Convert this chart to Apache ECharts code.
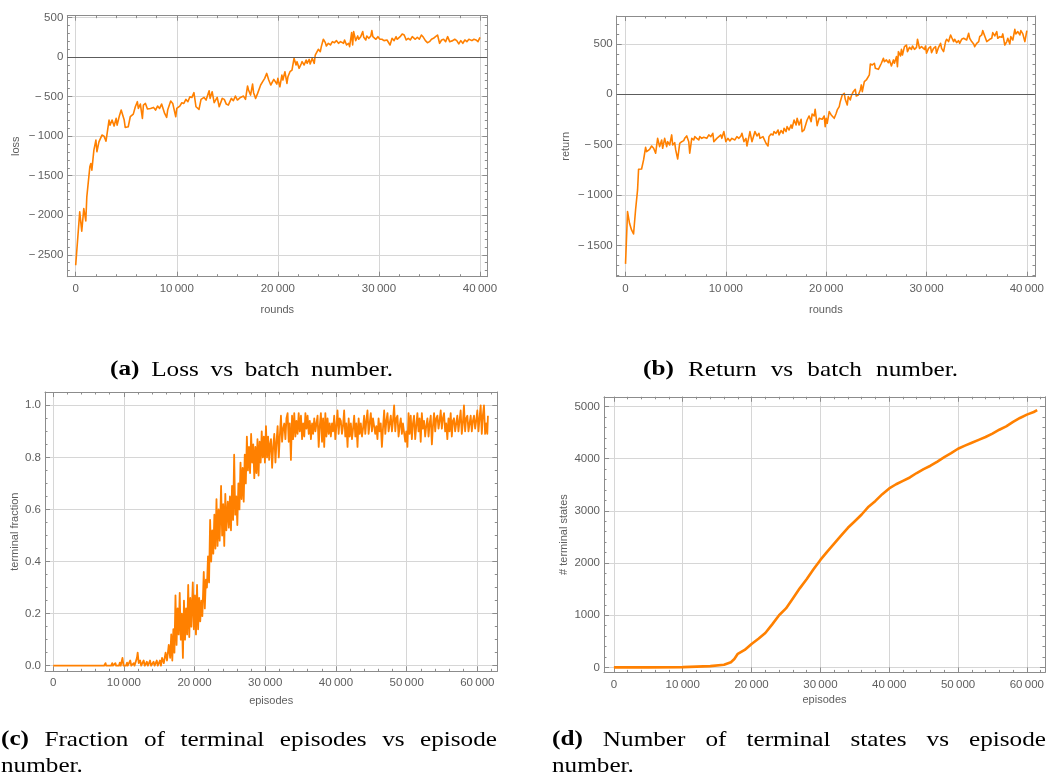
<!DOCTYPE html>
<html>
<head>
<meta charset="utf-8">
<script src="https://cdn.jsdelivr.net/npm/echarts@6/dist/echarts.min.js"></script>
<style>
  html, body { margin: 0; padding: 0; background: #fff; }
  #container { width: 1047px; height: 776px; }
</style>
</head>
<body>
<div id="container"></div>
<script>
// (a) loss vs rounds
var lossRounds = [0, 400, 500, 600, 800, 1000, 1100, 1400, 1500, 1600, 1800, 2000, 2100, 2300, 2600, 2800, 3000, 3300, 3400, 3600,
  3800, 4000, 4100, 4300, 4500, 4800, 4900, 5200, 5400, 5700, 5900, 6100, 6200, 6400, 6600, 6700, 6900, 7100, 7400, 7700,
  7900, 8100, 8300, 8500, 8800, 9000, 9100, 9400, 9600, 9900, 10000, 10300, 10500, 10700, 10900, 11100, 11300, 11500, 11700, 11900,
  12200, 12400, 12700, 12900, 13200, 13300, 13500, 13700, 14000, 14200, 14500, 14700, 14900, 15100, 15400, 15600, 15800, 16000, 16300, 16600,
  16800, 17000, 17100, 17300, 17500, 17600, 17800, 18000, 18300, 18500, 18700, 18900, 19100, 19300, 19600,
  19700, 19900, 20000, 20200, 20400, 20500, 20700, 20900, 21000, 21200, 21400, 21600, 21800, 21900, 22100, 22300, 22400, 22600, 22800, 22900,
  23100, 23200, 23400, 23600, 23700, 23800, 24000, 24200, 24300, 24500, 24700, 24800, 25000, 25200, 25400, 25600, 25800, 26000, 26200, 26500,
  26600, 26800, 27000, 27100, 27300, 27400, 27500, 27700, 27900, 28000, 28200, 28400, 28500, 28700, 28800, 29000, 29200, 29300, 29400, 29700,
  29900, 30100, 30300, 30500, 30800, 30900, 31100, 31300, 31500, 31700, 31800, 32100, 32300, 32500, 32700, 32900, 33100, 33300, 33600, 33800,
  34000, 34200, 34400, 34600, 34800, 35000, 35200, 35400, 35600, 35800, 36000, 36200, 36400, 36600, 36800, 37000, 37300, 37500, 37700, 37900,
  38100, 38300, 38500, 38700, 38900, 39200, 39400, 39600, 39800, 39900, 40000];
var lossValues = [-2633, -1958, -1958, -2203, -1916, -2072, -1768, -1388, -1346, -1430, -1177, -1051, -1198, -1072, -987, -1000, -1063, -797, -861, -797,
  -873, -776, -861, -755, -671, -797, -890, -882, -755, -722, -629, -565, -650, -595, -776, -608, -587, -658, -650, -637,
  -671, -620, -650, -595, -713, -764, -671, -557, -587, -755, -650, -620, -578, -587, -536, -565, -502, -511, -451, -629,
  -662, -536, -511, -544, -426, -523, -439, -578, -511, -629, -523, -536, -595, -608, -523, -553, -494, -544, -511, -494,
  -536, -367, -418, -481, -342, -451, -523, -460, -354, -312, -270, -207, -291, -354, -283,
  -291, -342, -270, -376, -228, -291, -186, -333, -249, -186, -165, -17, -101, -59, -143, -89, -59, -101, -38, -80,
  -30, -89, -17, -80, 25, 46, 97, 68, 131, 224, 181, 139, 173, 152, 194, 181, 207, 173, 194, 173,
  215, 152, 173, 131, 308, 152, 321, 207, 266, 224, 257, 321, 249, 215, 266, 236, 266, 333, 257, 224,
  257, 224, 224, 207, 215, 194, 152, 236, 207, 257, 224, 257, 291, 278, 215, 236, 215, 257, 224, 249,
  224, 278, 249, 207, 181, 194, 224, 236, 257, 278, 173, 215, 224, 194, 257, 194, 207, 224, 207, 165,
  207, 173, 215, 194, 224, 207, 224, 215, 194, 173, 249];

// (b) return vs rounds
var returnRounds = [0, 200, 400, 600, 700, 800, 1000, 1200, 1300, 1600, 1800, 2000, 2100, 2400, 2600, 2800, 3000, 3200, 3400, 3600,
  3700, 3900, 4100, 4200, 4400, 4600, 4700, 4900, 5000, 5200, 5400, 5600, 5800, 5900, 6100, 6300, 6400, 6600, 6800, 6900,
  7100, 7300, 7400, 7600, 7800, 8100, 8300, 8500, 8700, 8800, 9100, 9300, 9500, 9600, 9800, 10000, 10200, 10400, 10600, 10900,
  11100, 11300, 11500, 11600, 11800, 12000, 12100, 12300, 12400, 12600, 12800, 12900, 13100, 13300, 13400, 13700, 13800, 14000, 14200, 14300,
  14500, 14700, 14800, 15000, 15200, 15300, 15500, 15700, 15800, 16000, 16100, 16300, 16500, 16600, 16800, 17000, 17100, 17300, 17500, 17600,
  17800, 18000, 18100, 18300, 18500, 18600, 18800, 18900, 19100, 19300, 19400, 19600, 19800,
  19900, 20000, 20100, 20300, 20500, 20600, 20800, 21000, 21100, 21300, 21400, 21600, 21800, 21900, 22100, 22200, 22400, 22500, 22700, 22900,
  23000, 23200, 23400, 23500, 23600, 23800, 24000, 24100, 24300, 24400, 24600, 24800, 24900, 25200, 25300, 25500, 25700, 25800, 26000, 26200,
  26300, 26500, 26700, 26800, 27000, 27100, 27200, 27400, 27500, 27600, 27800, 28000, 28100, 28300, 28500, 28600, 28800, 29000, 29100, 29300,
  29500, 29600, 29800, 29900, 30000, 30200, 30400, 30500, 30700, 30900, 31000, 31200, 31400, 31500, 31700, 31900, 32000, 32200, 32400, 32500,
  32700, 32800, 33000, 33200, 33300, 33500, 33700, 33800, 34000, 34200, 34300, 34500, 34700, 34800, 35000, 35200, 35300, 35500, 35600, 35800,
  36000, 36100, 36300, 36500, 36600, 36800, 37000, 37100, 37300, 37500, 37600, 37800, 38000, 38100, 38300, 38400, 38600, 38800, 38900, 39100,
  39300, 39400, 39600, 39800, 40000];
var returnValues = [-1683, -1164, -1280, -1346, -1353, -1386, -1148, -949, -744, -741, -651, -526, -569, -546, -513, -536, -585, -437, -519, -453,
  -536, -437, -519, -470, -503, -403, -503, -480, -552, -642, -486, -470, -460, -437, -413, -470, -585, -437, -453, -420,
  -437, -453, -420, -437, -427, -437, -403, -420, -387, -470, -437, -420, -403, -437, -370, -470, -437, -463, -437, -453,
  -420, -437, -413, -387, -470, -437, -513, -420, -370, -470, -403, -370, -413, -387, -437, -420, -420, -486, -513, -420,
  -394, -403, -370, -387, -354, -403, -360, -387, -337, -370, -321, -354, -304, -337, -255, -304, -238, -304, -248, -370,
  -354, -288, -255, -215, -271, -195, -215, -149, -311, -238, -222, -248, -215,
  -321, -238, -288, -172, -205, -188, -238, -188, -155, -122, -73, -7, 10, -50, -106, -23, -56, -17, 26, 50,
  -17, -7, 43, 93, 26, 126, 142, 159, 192, 301, 291, 308, 258, 248, 268, 308, 357, 324, 341, 314,
  341, 281, 341, 308, 374, 274, 423, 380, 446, 390, 473, 489, 423, 466, 446, 479, 446, 466, 546, 456,
  473, 489, 446, 479, 407, 456, 473, 413, 456, 473, 407, 466, 506, 456, 423, 523, 546, 523, 589, 566,
  523, 546, 513, 532, 506, 546, 556, 572, 539, 605, 556, 523, 499, 473, 506, 523, 572, 589, 632, 579,
  523, 506, 546, 556, 612, 579, 622, 556, 572, 566, 599, 489, 523, 556, 499, 572, 539, 645, 599, 622,
  589, 632, 599, 523, 632];

// (c) terminal fraction vs episodes
var fracEpisodes = [0, 7200, 7400, 7500, 8200, 8350, 8450, 8800, 8900, 9300,
  9430, 9550, 9800, 9950, 10300, 10450, 10550, 10900, 11050, 11400,
  11500, 11850, 11950, 12100, 12300, 12450, 12800, 12950, 13250, 13400,
  13700, 13850, 14200, 14350, 14650, 14800, 15100, 15250,
  15400, 15650, 15900, 16100, 16350, 16550, 16700, 16850, 17000, 17150,
  17300, 17450, 17600, 17750, 17900, 18050, 18200, 18350, 18500, 18650,
  18800, 18950, 19100, 19250, 19400, 19550, 19750, 19900, 20050, 20200,
  20350, 20500, 20650, 20800, 20950, 21100, 21300, 21450, 21600, 21750,
  21900, 22050, 22200, 22350, 22500, 22650, 22800, 22950, 23100, 23250,
  23400, 23550, 23750, 23900, 24050, 24200, 24350, 24500, 24700, 24850,
  25000, 25150, 25300, 25450, 25600, 25750, 25900, 26050, 26200, 26350,
  26500, 26650, 26800, 26950, 27100, 27250, 27400, 27550, 27700, 27850,
  28000, 28150, 28300, 28450, 28600, 28750, 28900, 29050, 29200, 29350,
  29500, 29650, 29800, 29950, 30100, 30250, 30400, 30550, 30680,
  30810, 30970, 31120, 31280, 31440, 31590, 31750, 31910, 32060, 32220,
  32380, 32530, 32690, 32850, 33000, 33160, 33320, 33470, 33630, 33790,
  33940, 34100, 34260, 34410, 34570, 34730, 34880, 35050, 35210, 35360,
  35520, 35680, 35830, 35990, 36150, 36300, 36460, 36620, 36770, 36930,
  37090, 37240, 37400, 37560, 37710, 37870, 38030, 38180, 38340, 38500,
  38650, 38810, 38970, 39120, 39280, 39440, 39590, 39750, 39910, 40060,
  40220, 40380, 40530, 40690, 40850, 41000, 41160, 41320, 41470, 41640,
  41800, 41950, 42110, 42270, 42420, 42580, 42740, 42890, 43050, 43210,
  43360, 43520, 43680, 43830, 43990, 44150, 44300, 44460, 44620, 44770,
  44930, 45090, 45240, 45400, 45560, 45710, 45870, 46030, 46180, 46340,
  46500, 46650, 46820, 46980, 47130, 47290, 47450, 47600, 47760, 47920,
  48070, 48230, 48390, 48540, 48700, 48860, 49010, 49170, 49330, 49480,
  49640, 49800, 49950, 50110, 50270, 50420, 50580, 50740, 50890, 51050,
  51210, 51360, 51520, 51680, 51830, 51990, 52150, 52300, 52460, 52620,
  52770, 52940, 53100, 53250, 53410, 53570, 53720, 53880, 54040, 54190,
  54350, 54510, 54660, 54820, 54980, 55130, 55290, 55450, 55600, 55760,
  55920, 56070, 56230, 56390, 56540, 56700, 56860, 57010, 57170, 57330,
  57480, 57640, 57800, 57950, 58110, 58270, 58420, 58590, 58750, 58900,
  59060, 59220, 59370, 59530, 59690, 59840, 60000, 60160, 60310, 60470,
  60630, 60780, 60940, 61100, 61250, 61410, 61500];
var fracValues = [0, 0, 0.01, 0, 0, 0.01, 0, 0.01, 0, 0,
  0.012, 0, 0.03, 0, 0, 0.012, 0, 0.02, 0, 0.01,
  0, 0.03, 0.05, 0.01, 0.02, 0, 0.02, 0, 0.015, 0,
  0.02, 0, 0.015, 0, 0.02, 0, 0.02, 0,
  0.03, 0.01, 0.05, 0.02, 0.08, 0.03, 0.12, 0.02, 0.14, 0.05,
  0.27, 0.08, 0.22, 0.12, 0.28, 0.10, 0.20, 0.03, 0.25, 0.10,
  0.22, 0.12, 0.31, 0.11, 0.26, 0.15, 0.32, 0.14, 0.27, 0.12,
  0.31, 0.14, 0.26, 0.17, 0.25, 0.19, 0.36, 0.22, 0.33, 0.30,
  0.42, 0.32, 0.56, 0.40, 0.52, 0.43, 0.58, 0.45, 0.64, 0.46,
  0.60, 0.48, 0.69, 0.50, 0.62, 0.46, 0.66, 0.52, 0.63, 0.53,
  0.65, 0.52, 0.69, 0.56, 0.81, 0.58, 0.65, 0.54, 0.70, 0.60,
  0.78, 0.64, 0.76, 0.63, 0.81, 0.70, 0.88, 0.75, 0.84, 0.74,
  0.89, 0.78, 0.85, 0.72, 0.84, 0.74, 0.87, 0.73, 0.86, 0.78,
  0.90, 0.80, 0.88, 0.78, 0.92, 0.80, 0.88, 0.79, 0.85,
  0.87, 0.76, 0.84, 0.89, 0.78, 0.86, 0.92, 0.80, 0.88,
  0.96, 0.86, 0.91, 0.93, 0.87, 0.95, 0.97, 0.86, 0.93,
  0.79, 0.96, 0.87, 0.97, 0.88, 0.94, 0.89, 0.97, 0.90,
  0.96, 0.87, 0.93, 0.88, 0.97, 0.91, 0.96, 0.89, 0.94,
  0.87, 0.93, 0.89, 0.95, 0.90, 0.93, 0.96, 0.84, 0.92,
  0.97, 0.86, 0.95, 0.84, 0.97, 0.88, 0.95, 0.89, 0.93,
  0.88, 0.93, 0.90, 0.96, 0.87, 0.92, 0.98, 0.89, 0.95,
  0.94, 0.89, 0.92, 0.98, 0.88, 0.93, 0.84, 0.95, 0.88,
  0.93, 0.87, 0.91, 0.96, 0.88, 0.93, 0.84, 0.95, 0.89,
  0.93, 0.88, 0.91, 0.96, 0.89, 0.94, 0.98, 0.89, 0.93,
  0.97, 0.90, 0.95, 0.95, 0.89, 0.92, 0.87, 0.95, 0.90,
  0.93, 0.84, 0.91, 0.98, 0.89, 0.94, 0.97, 0.90, 0.93,
  0.96, 0.90, 0.94, 1.00, 0.90, 0.95, 0.96, 0.88, 0.92,
  0.95, 0.89, 0.93, 0.93, 0.86, 0.90, 0.84, 0.97, 0.89,
  0.96, 0.87, 0.93, 0.96, 0.87, 0.92, 0.97, 0.90, 0.95,
  0.86, 0.97, 0.91, 0.94, 0.88, 0.92, 0.95, 0.88, 0.93,
  0.96, 0.85, 0.92, 0.97, 0.90, 0.95, 0.96, 0.91, 0.94,
  0.98, 0.91, 0.95, 0.97, 0.90, 0.93, 0.87, 0.95, 0.90,
  0.97, 0.88, 0.94, 0.95, 0.90, 0.93, 0.96, 0.90, 0.94,
  0.98, 0.89, 0.93, 1.00, 0.90, 0.95, 0.96, 0.90, 0.93,
  0.96, 0.90, 0.94, 0.96, 0.91, 0.94, 0.98, 0.90, 0.95,
  1.00, 0.89, 0.96, 1.00, 0.89, 0.93,
  0.89, 0.96];

// (d) number of terminal states vs episodes
var stateEpisodes = [0, 5000, 10000, 12000, 14000, 16000, 17000, 17500, 18000, 19000,
  20000, 21000, 22000, 23000, 24000, 25000, 26000, 27000, 28000, 29000,
  30000, 31000, 32000, 33000, 34000, 35000, 36000, 37000, 38000, 39000,
  40000, 41000, 42000, 43000, 44000, 45000, 46000, 47000, 48000, 49000,
  50000, 51000, 52000, 53000, 54000, 55000, 56000, 57000, 58000, 59000,
  60000, 61000, 61500];
var stateCounts = [0, 0, 5, 15, 25, 50, 100, 160, 260, 335,
  450, 550, 660, 825, 1000, 1130, 1320, 1515, 1690, 1880,
  2060, 2220, 2370, 2525, 2675, 2800, 2930, 3080, 3190, 3320,
  3430, 3510, 3575, 3640, 3725, 3800, 3865, 3945, 4030, 4105,
  4190, 4250, 4305, 4360, 4415, 4480, 4555, 4620, 4705, 4780,
  4845, 4895, 4930];

// tick labels
var roundTicks = [0, 10000, 20000, 30000, 40000];
var episodeTicks = [0, 10000, 20000, 30000, 40000, 50000, 60000];
var lossTicks = [-2500, -2000, -1500, -1000, -500, 0, 500];
var returnTicks = [-1500, -1000, -500, 0, 500];
var fracTicks = [0, 0.2, 0.4, 0.6, 0.8, 1.0];
var stateTicks = [0, 1000, 2000, 3000, 4000, 5000];

var orange = '#ff8000';
var frameColor = '#8c8c8c';
var gridColor = '#d6d6d6';
var labelColor = '#5e5e5e';
var labelFont = '"Liberation Sans", Arial, sans-serif';
var captionFont = '"Liberation Serif", serif';

function steps(from, to, step) {
  var out = [];
  for (var v = from; v <= to + step * 1e-6; v += step) out.push(+v.toFixed(6));
  return out;
}
function zip(xs, ys) {
  var n = Math.min(xs.length, ys.length), out = [];
  for (var i = 0; i < n; i++) out.push([xs[i], ys[i]]);
  return out;
}
function fmtBig(v) {
  var s = String(Math.abs(v));
  if (Math.abs(v) >= 10000) s = s.slice(0, s.length - 3) + '\u2009' + s.slice(-3);
  return (v < 0 ? '\u2212\u2009' : '') + s;
}
function fmtFrac(v) { return v.toFixed(1); }

// frame of one panel: ticks on all four sides, labels + grid on bottom/left
function frameAxes(dim, gi, min, max, major, minor, fmt, name, nameGap) {
  var sides = dim === 'x' ? ['bottom', 'top'] : ['left', 'right'];
  var list = [];
  sides.forEach(function (side, s) {
    [major, minor].forEach(function (ticks, k) {
      var ax = {
        type: 'value', gridIndex: gi, position: side, min: min, max: max,
        axisLine: {show: k === 0, onZero: false, lineStyle: {color: frameColor, width: 1}},
        axisTick: {show: true, inside: true, length: k === 0 ? 5 : 2.5, customValues: ticks,
          lineStyle: {color: frameColor, width: 1}},
        axisLabel: {show: false},
        splitLine: {show: false}
      };
      if (s === 0 && k === 0) {
        ax.axisLabel = {show: true, customValues: major, formatter: fmt, margin: dim === 'x' ? 6 : 4,
          color: labelColor, fontSize: 11.5, fontFamily: labelFont};
        ax.splitLine = {show: true, lineStyle: {color: gridColor, width: 1}};
        ax.name = name;
        ax.nameLocation = 'middle';
        ax.nameGap = nameGap;
        ax.nameTextStyle = {color: labelColor, fontSize: 11, fontFamily: labelFont};
      }
      list.push(ax);
    });
  });
  return list;
}

var zeroLine = {
  silent: true, symbol: 'none', label: {show: false},
  lineStyle: {color: '#5c5c5c', width: 1, type: 'solid'},
  data: [{yAxis: 0}]
};

var grids = [
  {left: 67.3, top: 15.7, width: 420, height: 261},
  {left: 616.7, top: 16, width: 421.8, height: 260.7},
  {left: 45, top: 392, width: 452.3, height: 279.3},
  {left: 604, top: 396.8, width: 441, height: 275.6}
];

var xAxes = [].concat(
  frameAxes('x', 0, -830, 40722, roundTicks, steps(0, 40000, 2000), fmtBig, 'rounds', 28),
  frameAxes('x', 1, -880, 40810, roundTicks, steps(0, 40000, 2000), fmtBig, 'rounds', 28),
  frameAxes('x', 2, -1158, 62825, episodeTicks, steps(0, 62000, 2000), fmtBig, 'episodes', 24),
  frameAxes('x', 3, -1439, 62630, episodeTicks, steps(0, 62000, 2000), fmtBig, 'episodes', 22)
);
var yAxes = [].concat(
  frameAxes('y', 0, -2777, 522, lossTicks, steps(-2700, 500, 100), fmtBig, 'loss', 46),
  frameAxes('y', 1, -1810, 777, returnTicks, steps(-1800, 700, 100), fmtBig, 'return', 45),
  frameAxes('y', 2, -0.0215, 1.051, fracTicks, steps(0, 1.05, 0.05), fmtFrac, 'terminal fraction', 25),
  frameAxes('y', 3, -96, 5186, stateTicks, steps(0, 5000, 200), fmtBig, '# terminal states', 35)
);

function lineSeries(gi, data, width, withZero) {
  var s = {
    type: 'line', xAxisIndex: gi * 4, yAxisIndex: gi * 4, data: data,
    showSymbol: false, symbol: 'none', clip: true,
    lineStyle: {color: orange, width: width, join: 'round'}
  };
  if (withZero) s.markLine = zeroLine;
  return s;
}

// captions: words spread between x0 and x1 (LaTeX-like justified line),
// glyphs widened a little to get closer to Computer Modern proportions
var measureCtx = document.createElement('canvas').getContext('2d');
var capStretch = 1.2;
function captionLine(words, x0, x1, y, size) {
  var fonts = words.map(function (w, i) {
    return (i === 0 && /^\(.\)$/.test(w) ? 'bold ' : '') + size + 'px ' + captionFont;
  });
  var widths = words.map(function (w, i) {
    measureCtx.font = fonts[i];
    return measureCtx.measureText(w).width * capStretch;
  });
  var total = widths.reduce(function (a, b) { return a + b; }, 0);
  var gap = words.length > 1 ? (x1 - x0 - total) / (words.length - 1) : 0;
  var x = x0, els = [];
  words.forEach(function (w, i) {
    els.push({type: 'text', x: x, y: y, scaleX: capStretch, silent: true,
      style: {text: w, font: fonts[i], fill: '#000', verticalAlign: 'middle', align: 'left'}});
    x += widths[i] + gap;
  });
  return els;
}
var capSize = 21;
var graphics = [].concat(
  captionLine(['(a)', 'Loss', 'vs', 'batch', 'number.'], 110, 393, 370, capSize),
  captionLine(['(b)', 'Return', 'vs', 'batch', 'number.'], 643, 958, 370, capSize),
  captionLine(['(c)', 'Fraction', 'of', 'terminal', 'episodes', 'vs', 'episode'], 1, 497, 740, capSize),
  captionLine(['number.'], 1, 1, 766, capSize),
  captionLine(['(d)', 'Number', 'of', 'terminal', 'states', 'vs', 'episode'], 552, 1046, 740, capSize),
  captionLine(['number.'], 552, 552, 766, capSize)
);

var dom = document.getElementById('container');
var myChart = echarts.init(dom, null, {renderer: 'canvas'});
var option = {
  animation: false,
  backgroundColor: '#fff',
  grid: grids,
  xAxis: xAxes,
  yAxis: yAxes,
  series: [
    lineSeries(0, zip(lossRounds, lossValues), 1.6, true),
    lineSeries(1, zip(returnRounds, returnValues), 1.6, true),
    lineSeries(2, zip(fracEpisodes, fracValues), 1.8, false),
    lineSeries(3, zip(stateEpisodes, stateCounts), 2.6, false)
  ],
  graphic: graphics
};
myChart.setOption(option, true);
</script>
</body>
</html>
